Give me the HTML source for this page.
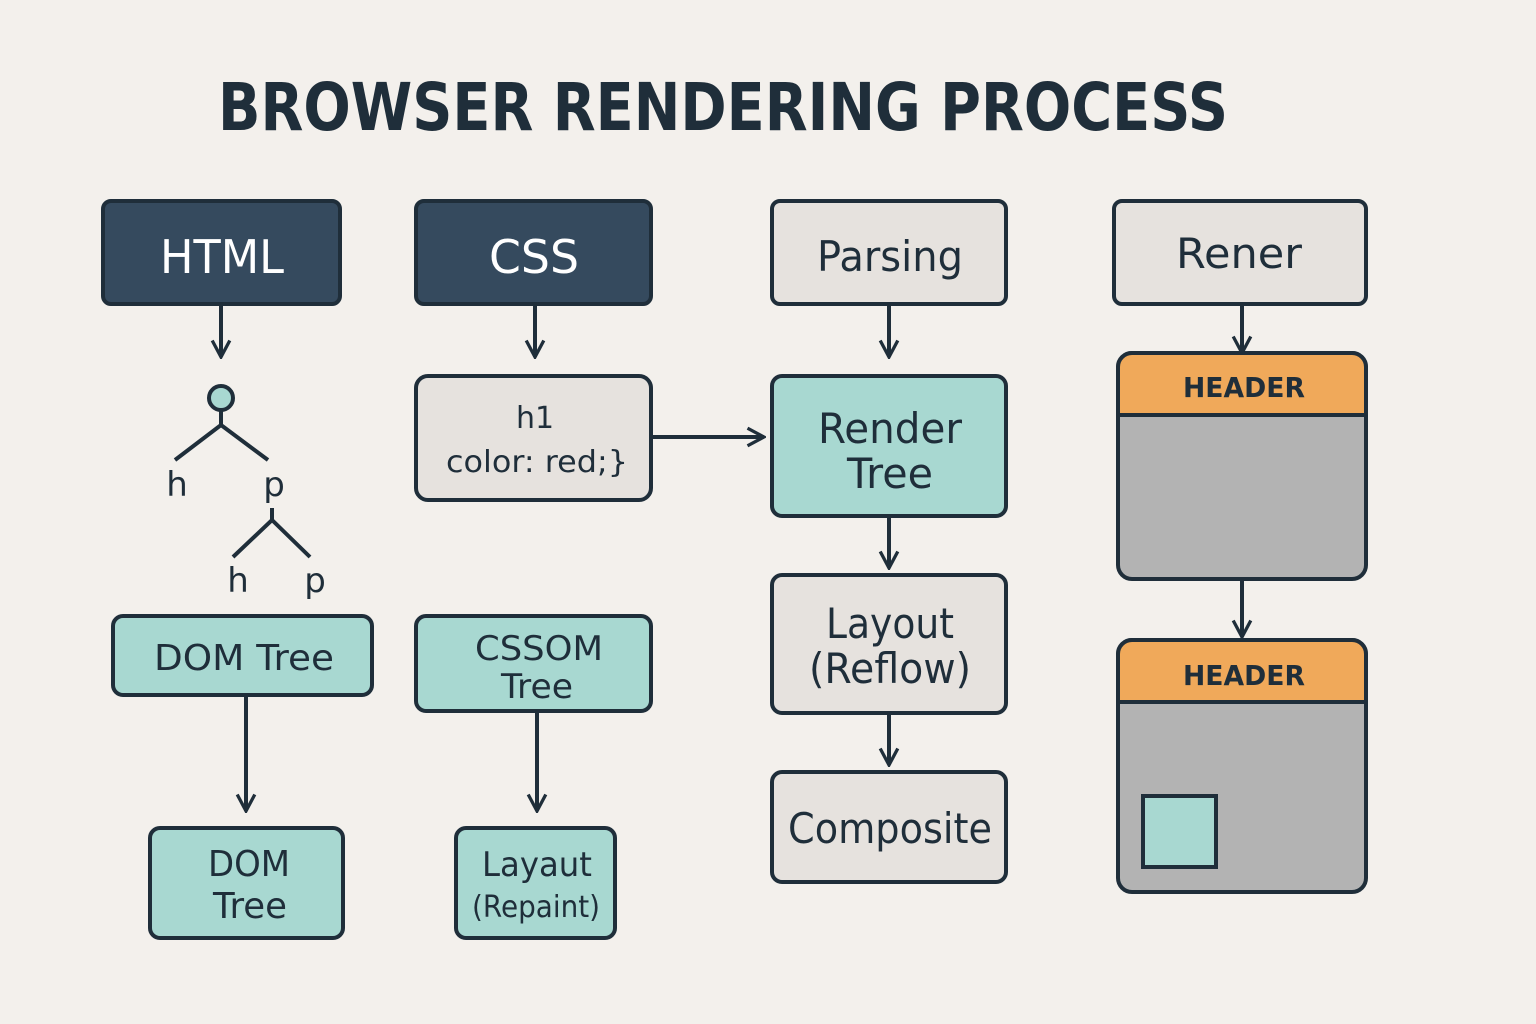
<!DOCTYPE html>
<html><head><style>body{margin:0;background:#f3f0ec}svg{display:block}</style></head><body>
<svg width="1536" height="1024" viewBox="0 0 1536 1024" xmlns="http://www.w3.org/2000/svg" font-family="'DejaVu Sans','Liberation Sans',sans-serif">
<defs><marker id="a" viewBox="0 0 20 20" refX="18" refY="10" markerWidth="22" markerHeight="22" markerUnits="userSpaceOnUse" orient="auto"><path d="M3 2 L18 10 L3 18" fill="none" stroke="#1f2e3a" stroke-width="3"/></marker></defs>
<rect width="1536" height="1024" fill="#f3f0ec"/>
<text x="218" y="130" font-size="66" font-weight="bold" fill="#1f2e3a" textLength="1010" lengthAdjust="spacingAndGlyphs">BROWSER RENDERING PROCESS</text>
<g stroke="#1f2e3a" stroke-width="4">
<rect x="103" y="201" width="237" height="103" rx="8" fill="#354a5e"/>
<rect x="416" y="201" width="235" height="103" rx="8" fill="#354a5e"/>
<rect x="772" y="201" width="234" height="103" rx="8" fill="#e6e2de"/>
<rect x="1114" y="201" width="252" height="103" rx="8" fill="#e6e2de"/>
<rect x="416" y="376" width="235" height="124" rx="12" fill="#e6e2de"/>
<rect x="772" y="376" width="234" height="140" rx="10" fill="#a8d8d1"/>
<rect x="772" y="575" width="234" height="138" rx="10" fill="#e6e2de"/>
<rect x="772" y="772" width="234" height="110" rx="10" fill="#e6e2de"/>
<rect x="113" y="616" width="259" height="79" rx="10" fill="#a8d8d1"/>
<rect x="416" y="616" width="235" height="95" rx="10" fill="#a8d8d1"/>
<rect x="150" y="828" width="193" height="110" rx="10" fill="#a8d8d1"/>
<rect x="456" y="828" width="159" height="110" rx="10" fill="#a8d8d1"/>
<rect x="1118" y="353" width="248" height="226" rx="14" fill="#b3b3b3"/>
<path d="M1118 415 V367 a14 14 0 0 1 14 -14 H1352 a14 14 0 0 1 14 14 V415 Z" fill="#f0a95a"/>
<rect x="1118" y="640" width="248" height="252" rx="14" fill="#b3b3b3"/>
<path d="M1118 702 V654 a14 14 0 0 1 14 -14 H1352 a14 14 0 0 1 14 14 V702 Z" fill="#f0a95a"/>
<rect x="1143" y="796" width="73" height="71" fill="#a8d8d1" stroke-width="4"/>
<circle cx="221" cy="398" r="12" fill="#a8d8d1"/>
<g fill="none">
<path d="M221 410 V425 M175 460 L221 425 L268 460 M272 508 V520 M233 557 L272 520 L310 557"/>
<path d="M221 306 V357" marker-end="url(#a)"/>
<path d="M535 306 V357" marker-end="url(#a)"/>
<path d="M889 306 V357" marker-end="url(#a)"/>
<path d="M1242 306 V353" marker-end="url(#a)"/>
<path d="M652 437 H764" marker-end="url(#a)"/>
<path d="M889 518 V568" marker-end="url(#a)"/>
<path d="M889 715 V765" marker-end="url(#a)"/>
<path d="M1242 580 V637" marker-end="url(#a)"/>
<path d="M246 696 V811" marker-end="url(#a)"/>
<path d="M537 712 V811" marker-end="url(#a)"/>
</g></g>
<g text-anchor="middle" fill="#1f2e3a">
<text x="222" y="273" font-size="46" fill="#fff" textLength="124" lengthAdjust="spacingAndGlyphs">HTML</text>
<text x="534" y="273" font-size="46" fill="#fff" textLength="90" lengthAdjust="spacingAndGlyphs">CSS</text>
<text x="890" y="271" font-size="42" textLength="146" lengthAdjust="spacingAndGlyphs">Parsing</text>
<text x="1239" y="268" font-size="42" textLength="126" lengthAdjust="spacingAndGlyphs">Rener</text>
<text x="535" y="428" font-size="30">h1</text>
<text x="537" y="472" font-size="30" textLength="182" lengthAdjust="spacingAndGlyphs">color: red;}</text>
<text x="890" y="443" font-size="42" textLength="144" lengthAdjust="spacingAndGlyphs">Render</text>
<text x="890" y="488" font-size="42" textLength="86" lengthAdjust="spacingAndGlyphs">Tree</text>
<text x="890" y="638" font-size="42" textLength="128" lengthAdjust="spacingAndGlyphs">Layout</text>
<text x="890" y="683" font-size="42" textLength="162" lengthAdjust="spacingAndGlyphs">(Reflow)</text>
<text x="890" y="843" font-size="42" textLength="204" lengthAdjust="spacingAndGlyphs">Composite</text>
<text x="244" y="670" font-size="36" textLength="180" lengthAdjust="spacingAndGlyphs">DOM Tree</text>
<text x="539" y="660" font-size="34" textLength="128" lengthAdjust="spacingAndGlyphs">CSSOM</text>
<text x="537" y="698" font-size="34" textLength="72" lengthAdjust="spacingAndGlyphs">Tree</text>
<text x="249" y="876" font-size="36" textLength="82" lengthAdjust="spacingAndGlyphs">DOM</text>
<text x="250" y="918" font-size="36" textLength="74" lengthAdjust="spacingAndGlyphs">Tree</text>
<text x="537" y="876" font-size="34" textLength="110" lengthAdjust="spacingAndGlyphs">Layaut</text>
<text x="536" y="917" font-size="30" textLength="128" lengthAdjust="spacingAndGlyphs">(Repaint)</text>
<text x="1244" y="397" font-size="28" font-weight="bold" textLength="122" lengthAdjust="spacingAndGlyphs">HEADER</text>
<text x="1244" y="685" font-size="28" font-weight="bold" textLength="122" lengthAdjust="spacingAndGlyphs">HEADER</text>
<text x="177" y="496" font-size="34">h</text>
<text x="274" y="496" font-size="34">p</text>
<text x="238" y="592" font-size="34">h</text>
<text x="315" y="592" font-size="34">p</text>
</g>
</svg>
</body></html>
